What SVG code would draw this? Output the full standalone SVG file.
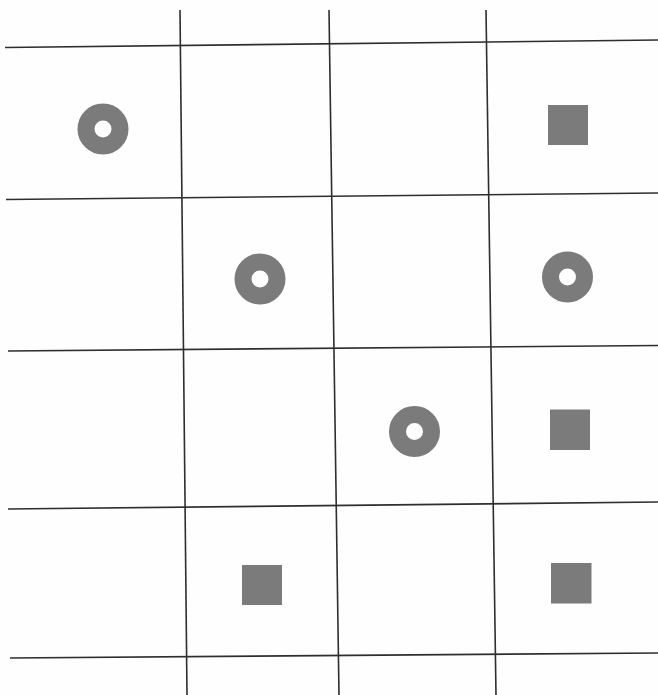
<svg xmlns="http://www.w3.org/2000/svg" width="658" height="695" viewBox="0 0 658 695">
<style>
.g line{stroke:#2e2e2e;stroke-width:1.6;fill:none}
.ring{fill:none;stroke:#7b7b7b;stroke-width:17}
.sq{fill:#7b7b7b}
</style>
<rect width="658" height="695" fill="#fefefe"/>
<g id="grid" class="g">
<line x1="5" y1="47.5" x2="658" y2="40"/>
<line x1="6" y1="199.5" x2="658" y2="193"/>
<line x1="8" y1="351" x2="658" y2="345.5"/>
<line x1="8" y1="509" x2="658" y2="502"/>
<line x1="10" y1="658" x2="658" y2="653"/>
<line x1="180" y1="10" x2="187" y2="695"/>
<line x1="329" y1="10" x2="339" y2="695"/>
<line x1="486" y1="10" x2="496" y2="695"/>
</g>
<g id="ring1"><circle class="ring" cx="103" cy="129" r="17"/></g>
<g id="square1"><rect class="sq" x="548" y="105" width="40" height="40"/></g>
<g id="ring2"><circle class="ring" cx="260" cy="279" r="17"/></g>
<g id="ring3"><circle class="ring" cx="567.5" cy="277" r="17"/></g>
<g id="ring4"><circle class="ring" cx="414.5" cy="431.5" r="17"/></g>
<g id="square2"><rect class="sq" x="550" y="409.5" width="40" height="40.5"/></g>
<g id="square3"><rect class="sq" x="242" y="565" width="40" height="40"/></g>
<g id="square4"><rect class="sq" x="551" y="563" width="40.5" height="40.5"/></g>
</svg>
